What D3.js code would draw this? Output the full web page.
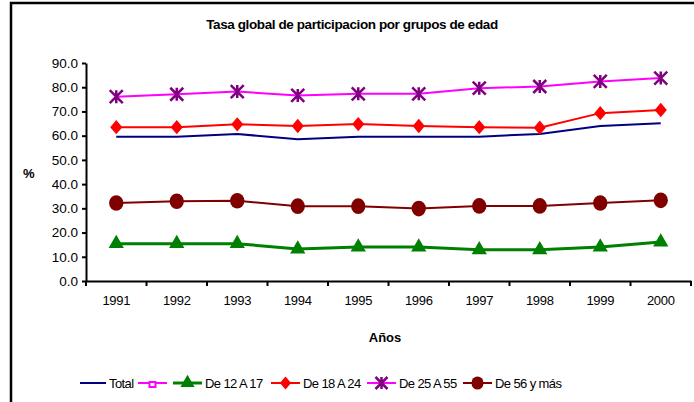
<!DOCTYPE html>
<html>
<head>
<meta charset="utf-8">
<script src="https://cdn.jsdelivr.net/npm/d3@7"></script>
<style>
  body { margin: 0; background: #fff; }
  text { font-family: "Liberation Sans", Arial, sans-serif; fill: #000; }
</style>
</head>
<body>
<script>
const width = 694;
const height = 402;

const years = ["1991", "1992", "1993", "1994", "1995", "1996", "1997", "1998", "1999", "2000"];
const yTicks = [0, 10, 20, 30, 40, 50, 60, 70, 80, 90];

const total = [59.6, 59.6, 60.7, 58.5, 59.6, 59.6, 59.6, 60.7, 64.0, 65.1];
const de12a17 = [15.4, 15.4, 15.4, 13.2, 14.0, 14.0, 12.9, 12.9, 14.0, 16.1];
const de18a24 = [63.5, 63.5, 64.7, 64.0, 64.8, 64.0, 63.5, 63.3, 69.3, 70.6];
const de25a55 = [76.1, 77.1, 78.2, 76.6, 77.3, 77.3, 79.6, 80.3, 82.4, 83.8];
const de56 = [32.2, 32.9, 33.1, 30.9, 30.9, 29.9, 31.0, 31.0, 32.2, 33.3];

const series = [
  { name: "Total", values: total, line: "#000080", marker: null, lw: 2 },
  { name: "", values: null, line: "#ff00ff", marker: "square", fill: "#ff00ff", lw: 2 },
  { name: "De 12 A 17", values: de12a17, line: "#008000", marker: "triangle", fill: "#008000", lw: 3 },
  { name: "De 18 A 24", values: de18a24, line: "#ff0000", marker: "diamond", fill: "#ff0000", lw: 2 },
  { name: "De 25 A 55", values: de25a55, line: "#ff00ff", marker: "star", fill: "#800080", lw: 2 },
  { name: "De 56 y más", values: de56, line: "#800000", marker: "circle", fill: "#800000", lw: 2 }
];

const svg = d3.select("body").append("svg")
  .attr("width", width)
  .attr("height", height);

// frame
svg.append("rect")
  .attr("x", 11).attr("y", 3)
  .attr("width", width + 10).attr("height", height + 10)
  .attr("fill", "none").attr("stroke", "#000").attr("stroke-width", 2.5);

const x = d3.scaleBand().domain(years).range([86, 691]);
const y = d3.scaleLinear().domain([0, 90]).range([281, 63]);

svg.append("text")
  .attr("x", 352).attr("y", 29)
  .attr("text-anchor", "middle")
  .attr("font-size", 13.5).attr("font-weight", "bold")
  .attr("letter-spacing", -0.4)
  .text("Tasa global de participacion por grupos de edad");

// y axis
const yAxis = svg.append("g")
  .attr("transform", "translate(86,0)")
  .call(d3.axisLeft(y).tickValues(yTicks).tickFormat(d3.format(".1f")).tickSize(4).tickSizeOuter(0));
yAxis.select(".domain").attr("stroke", "#000").attr("stroke-width", 2);
yAxis.selectAll("line").attr("stroke", "#000").attr("stroke-width", 2);
yAxis.selectAll("text").attr("font-size", 13.5).attr("x", -8)
  .attr("font-family", "Liberation Sans, Arial, sans-serif");

// x axis
const xAxis = svg.append("g")
  .attr("transform", "translate(0,281)")
  .call(d3.axisBottom(x).tickSize(0).tickPadding(15));
xAxis.select(".domain").attr("stroke", "#000").attr("stroke-width", 2);
xAxis.selectAll("text").attr("font-size", 13)
  .attr("letter-spacing", -0.3)
  .attr("font-family", "Liberation Sans, Arial, sans-serif");
xAxis.selectAll(".sep")
  .data(d3.range(years.length + 1))
  .join("line")
  .attr("x1", (i) => 86 + i * x.step())
  .attr("x2", (i) => 86 + i * x.step())
  .attr("y1", 0).attr("y2", 5)
  .attr("stroke", "#000").attr("stroke-width", 2);

svg.append("text")
  .attr("x", 23).attr("y", 178)
  .attr("font-size", 13).attr("font-weight", "bold")
  .text("%");

svg.append("text")
  .attr("x", 385).attr("y", 342)
  .attr("text-anchor", "middle")
  .attr("font-size", 13).attr("font-weight", "bold")
  .text("Años");

function drawMarker(g, type, fill, size) {
  if (type === "circle") {
    g.append("ellipse").attr("rx", size * 0.55).attr("ry", size * 0.6).attr("fill", fill);
  } else if (type === "triangle") {
    g.append("path").attr("d", d3.symbol(d3.symbolTriangle, size * size * 0.6)()).attr("fill", fill);
  } else if (type === "diamond") {
    const s = size * 0.55;
    g.append("path").attr("d", `M0,${-s}L${s * 0.85},0L0,${s}L${-s * 0.85},0Z`).attr("fill", fill);
  } else if (type === "star") {
    const s = size * 0.5;
    g.append("path")
      .attr("d", `M${-s},${-s}L${s},${s}M${-s},${s}L${s},${-s}M0,${-s}L0,${s}`)
      .attr("stroke", fill).attr("stroke-width", 2.5).attr("fill", "none");
  } else if (type === "square") {
    g.append("rect").attr("x", -3).attr("y", -3).attr("width", 6).attr("height", 5)
      .attr("fill", "#fff").attr("stroke", fill).attr("stroke-width", 2);
  }
}

const line = d3.line()
  .x((d, i) => x(years[i]) + x.bandwidth() / 2)
  .y((d) => y(d));

series.filter((s) => s.values).forEach((s) => {
  svg.append("path")
    .datum(s.values)
    .attr("d", line)
    .attr("fill", "none")
    .attr("stroke", s.line)
    .attr("stroke-width", s.lw);
  if (s.marker) {
    s.values.forEach((v, i) => {
      const g = svg.append("g")
        .attr("transform", `translate(${x(years[i]) + x.bandwidth() / 2},${y(v)})`);
      drawMarker(g, s.marker, s.fill, 13);
    });
  }
});

// legend
const legendX = [80, 138, 173, 271, 367, 463];
const legendY = 383;
series.forEach((s, i) => {
  const lx = legendX[i];
  const lineLen = i === 0 ? 26 : 29;
  svg.append("line")
    .attr("x1", lx).attr("x2", lx + lineLen)
    .attr("y1", legendY).attr("y2", legendY)
    .attr("stroke", s.line).attr("stroke-width", s.lw);
  if (s.marker) {
    const g = svg.append("g").attr("transform", `translate(${lx + lineLen / 2},${legendY + (s.marker === "square" ? 2 : 0)})`);
    drawMarker(g, s.marker, s.fill, s.marker === "circle" ? 11 : 12);
  }
  if (s.name) {
    svg.append("text")
      .attr("x", lx + lineLen + 3).attr("y", legendY + 5)
      .attr("font-size", 13)
      .attr("letter-spacing", -0.6)
      .text(s.name);
  }
});
</script>
</body>
</html>
